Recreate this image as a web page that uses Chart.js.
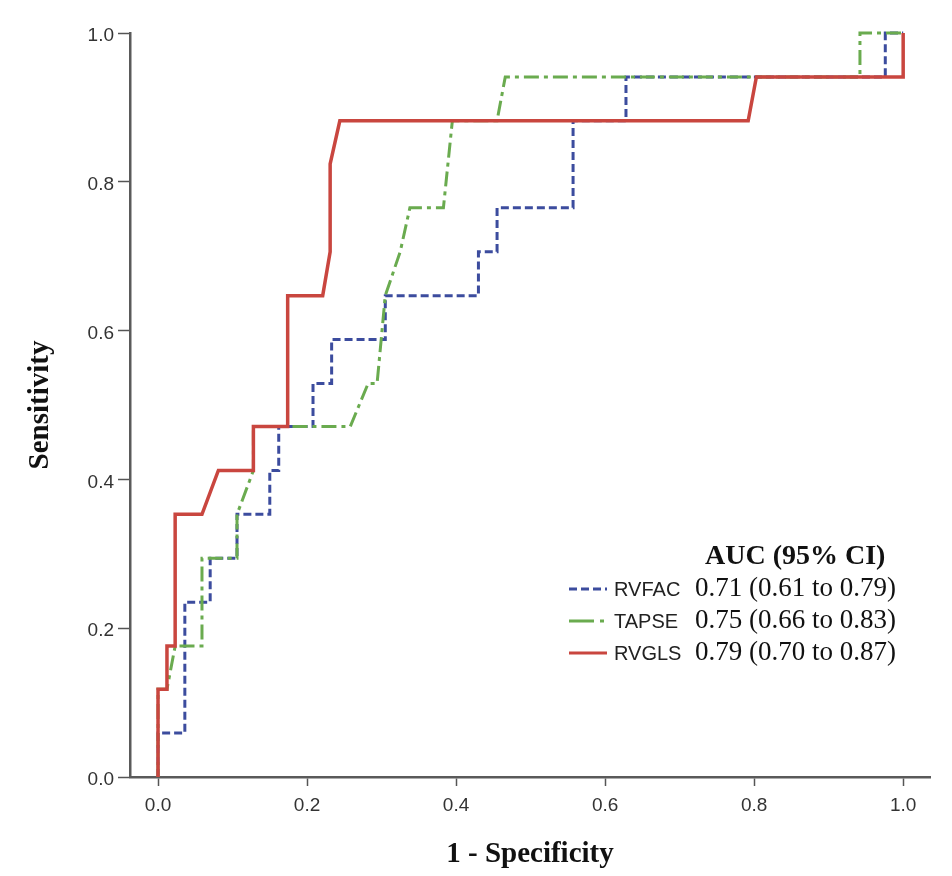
<!DOCTYPE html>
<html>
<head>
<meta charset="utf-8">
<script src="https://cdn.jsdelivr.net/npm/chart.js@4.4.1/dist/chart.umd.min.js"></script>
<style>
  html, body { margin: 0; padding: 0; background: #fff; }
</style>
</head>
<body>
<canvas id="roc" width="952" height="876"></canvas>
<script>
// ROC curves (1 - specificity, sensitivity)
var rvfacX = [0, 0, 0.036, 0.036, 0.070, 0.070, 0.106, 0.106, 0.150, 0.150, 0.162, 0.162, 0.208, 0.208, 0.233, 0.233, 0.305, 0.305, 0.430, 0.430, 0.455, 0.455, 0.557, 0.557, 0.628, 0.628, 0.976, 0.976, 1.0];
var rvfacY = [0, 0.059, 0.059, 0.235, 0.235, 0.294, 0.294, 0.353, 0.353, 0.412, 0.412, 0.471, 0.471, 0.529, 0.529, 0.588, 0.588, 0.647, 0.647, 0.706, 0.706, 0.765, 0.765, 0.882, 0.882, 0.941, 0.941, 1.0, 1.0];

var tapseX = [0, 0, 0.012, 0.023, 0.059, 0.059, 0.106, 0.106, 0.128, 0.128, 0.258, 0.282, 0.294, 0.305, 0.325, 0.338, 0.383, 0.395, 0.455, 0.466, 0.942, 0.942, 1.0];
var tapseY = [0, 0.118, 0.118, 0.176, 0.176, 0.294, 0.294, 0.353, 0.412, 0.471, 0.471, 0.529, 0.529, 0.647, 0.706, 0.765, 0.765, 0.882, 0.882, 0.941, 0.941, 1.0, 1.0];

var rvglsX = [0, 0, 0.012, 0.012, 0.023, 0.023, 0.059, 0.081, 0.128, 0.128, 0.174, 0.174, 0.221, 0.231, 0.231, 0.244, 0.792, 0.803, 1.0, 1.0];
var rvglsY = [0, 0.118, 0.118, 0.176, 0.176, 0.353, 0.353, 0.412, 0.412, 0.471, 0.471, 0.647, 0.647, 0.706, 0.824, 0.882, 0.882, 0.941, 0.941, 1.0];

var seriesNames = ["RVFAC", "TAPSE", "RVGLS"];
var aucHeader = "AUC (95% CI)";
var aucValues = ["0.71 (0.61 to 0.79)", "0.75 (0.66 to 0.83)", "0.79 (0.70 to 0.87)"];

var xTicks = [0, 0.2, 0.4, 0.6, 0.8, 1.0];
var yTicks = [0, 0.2, 0.4, 0.6, 0.8, 1.0];

var colors = ["#3c4c9e", "#6aab4f", "#c9463f"];
var dashes = [[8, 4], [15, 5, 4, 5], []];
var legendDashes = [[8, 4], [25, 6, 4, 20], []];
var widths = [3, 3, 3.5];

function toPoints(xs, ys) {
    var pts = [];
    for (var i = 0; i < xs.length; i++) {
        pts.push({x: xs[i], y: ys[i]});
    }
    return pts;
}

var curves = [toPoints(rvfacX, rvfacY), toPoints(tapseX, tapseY), toPoints(rvglsX, rvglsY)];

// legend with the AUC column, drawn straight on the canvas
var aucLegend = {
    id: 'aucLegend',
    afterDraw: function (chart) {
        var ctx = chart.ctx;
        ctx.save();
        ctx.textBaseline = 'middle';
        ctx.textAlign = 'left';
        ctx.fillStyle = '#111';
        ctx.font = 'bold 28px "Liberation Serif"';
        ctx.fillText(aucHeader, 705, 557);
        for (var i = 0; i < seriesNames.length; i++) {
            var y = 589 + i * 32;
            ctx.strokeStyle = colors[i];
            ctx.lineWidth = 3;
            ctx.setLineDash(legendDashes[i]);
            ctx.beginPath();
            ctx.moveTo(569, y);
            ctx.lineTo(607, y);
            ctx.stroke();
            ctx.setLineDash([]);
            ctx.fillStyle = '#222';
            ctx.font = '20px "Liberation Sans"';
            ctx.fillText(seriesNames[i], 614, y + 1);
            ctx.fillStyle = '#111';
            ctx.font = '27px "Liberation Serif"';
            ctx.fillText(aucValues[i], 695, y);
        }
        ctx.restore();
    }
};

var ctx = document.getElementById("roc").getContext('2d');
var rocChart = new Chart(ctx, {
    type: 'scatter',
    data: {
        datasets: curves.map(function (pts, i) {
            return {
                label: seriesNames[i],
                data: pts,
                showLine: true,
                borderColor: colors[i],
                backgroundColor: colors[i],
                borderWidth: widths[i],
                borderDash: dashes[i],
                pointRadius: 0,
                tension: 0,
                clip: false,
                order: 3 - i
            };
        })
    },
    options: {
        responsive: false,
        animation: false,
        layout: {padding: {top: 33, right: 22, left: 0, bottom: 0}},
        plugins: {
            legend: {display: false},
            tooltip: {enabled: false}
        },
        scales: {
            x: {
                type: 'linear',
                min: -0.0376,
                max: 1.036,
                afterBuildTicks: function (s) {
                    s.ticks = xTicks.map(function (v) { return {value: v}; });
                },
                afterFit: function (s) { s.height = 99; },
                ticks: {
                    callback: function (v) { return v.toFixed(1); },
                    color: '#333',
                    font: {family: 'Liberation Sans', size: 19},
                    padding: 8,
                    maxRotation: 0
                },
                grid: {drawOnChartArea: false, drawTicks: true, tickLength: 9, tickWidth: 1.5, tickColor: '#555'},
                border: {display: true, color: '#5a5a5a', width: 2.5},
                title: {
                    display: true,
                    text: '1 - Specificity',
                    color: '#111',
                    font: {family: 'Liberation Serif', size: 29, weight: 'bold'},
                    padding: {top: 0, bottom: 4}
                }
            },
            y: {
                type: 'linear',
                min: 0,
                max: 1,
                afterBuildTicks: function (s) {
                    s.ticks = yTicks.map(function (v) { return {value: v}; });
                },
                afterFit: function (s) { s.width = 130; },
                ticks: {
                    callback: function (v) { return v.toFixed(1); },
                    color: '#333',
                    font: {family: 'Liberation Sans', size: 19},
                    padding: 4,
                    labelOffset: 3
                },
                grid: {drawOnChartArea: false, drawTicks: true, tickLength: 12, tickWidth: 1.5, tickColor: '#555'},
                border: {display: true, color: '#5a5a5a', width: 2.5},
                title: {
                    display: true,
                    text: 'Sensitivity',
                    color: '#111',
                    font: {family: 'Liberation Serif', size: 29, weight: 'bold'},
                    padding: {top: 23, bottom: 0}
                }
            }
        }
    },
    plugins: [aucLegend]
});
</script>
</body>
</html>
